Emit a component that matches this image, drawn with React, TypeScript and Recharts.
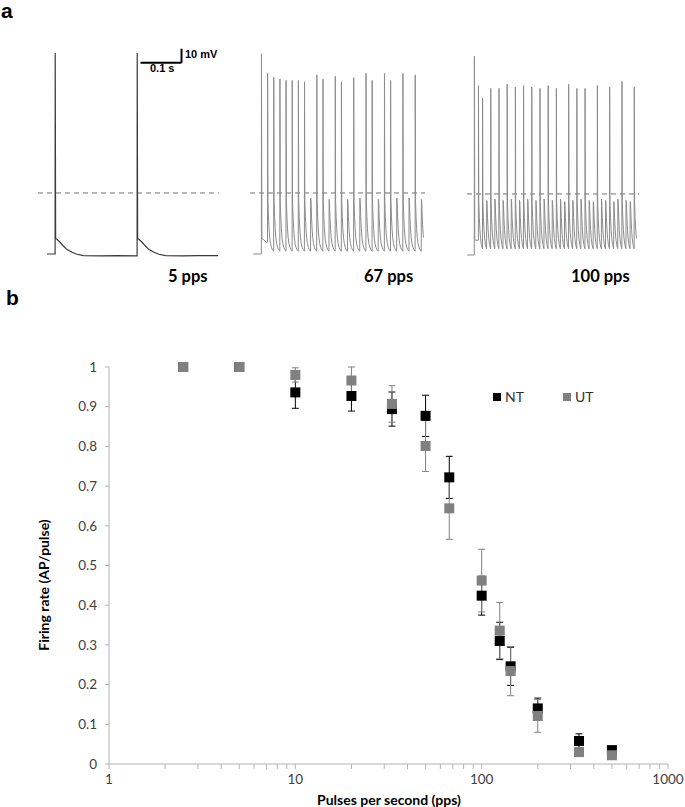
import React from 'react';
import {
  LineChart, Line, XAxis, YAxis, ReferenceLine,
  ScatterChart, Scatter, ErrorBar, Legend,
} from 'recharts';

// ---------- panel a: membrane potential (mV above rest) ----------
const thresholdMv = 43.6;
const scaleBarMs = 100;
const scaleBarMv = 10;

// peak depolarisation on each stimulus pulse (~40 = pulse without a spike)
const peaks5pps = [143.6, 143.6];
const peaks67pps = [
  143, 129, 126, 125, 124, 124, 124, 123, 40, 128, 125, 39, 127, 123,
  39, 126, 40, 129, 124, 39, 129, 124, 40, 129, 40, 128, 39,
];
const peaks100pps = [
  142, 121, 112, 39, 119, 40, 119, 39, 122, 40, 120, 39, 121, 40, 120,
  39, 119, 40, 121, 39, 119, 40, 38, 122, 39, 119, 40, 119, 39, 38, 121,
  40, 39, 120, 38, 40, 124, 39, 38, 120,
];

// after-potential shapes [ms after pulse, mV]
const singleAfter = [
  [1, 11], [4, 10.5], [12, 8.4], [20, 5.7], [28, 3.3], [41, 1.2],
  [53, -0.2], [69, -1.2], [110, -1.4], [150, -1.1], [199, -1.4],
];
const trainAfter = [
  [0.8, 38], [2, 27], [3.5, 18], [5, 12], [7, 7.5], [9.5, 4.5], [12, 3], [14.6, 2],
];

type Pt = { t: number; v: number };

function buildTrace(start: number, interval: number, peaks: number[], end: number, after: number[][]): Pt[] {
  const pts: Pt[] = [{ t: 0, v: 0 }];
  let v = 0;
  peaks.forEach((peak, k) => {
    const t0 = start + k * interval;
    pts.push({ t: t0 - 0.3, v });
    pts.push({ t: t0, v: peak });
    const shape = k === 0 ? singleAfter : after;
    const limit = k === peaks.length - 1 ? end - t0 : interval - 0.4;
    shape.forEach(([dt, mv]) => {
      if (dt <= limit) {
        pts.push({ t: t0 + dt, v: mv });
        v = mv;
      }
    });
  });
  pts.push({ t: end, v });
  return pts;
}

const trace5 = buildTrace(20, 200, peaks5pps, 417, singleAfter);
const trace67 = buildTrace(20, 15, peaks67pps, 416, trainAfter);
const trace100 = buildTrace(18, 10, peaks100pps, 414, trainAfter);

// ---------- panel b: firing rate vs pulse rate ----------
const pulseRates = [2.5, 5, 10, 20, 33, 50, 67, 100, 125, 143, 200, 333, 500];
const ntMean = [1, 1, 0.936, 0.927, 0.894, 0.877, 0.722, 0.424, 0.31, 0.246, 0.14, 0.058, 0.035];
const ntErr = [0, 0, 0.04, 0.038, 0.043, 0.052, 0.053, 0.049, 0.047, 0.048, 0.026, 0.018, 0.004];
const utMean = [1, 1, 0.98, 0.966, 0.907, 0.801, 0.644, 0.462, 0.336, 0.234, 0.121, 0.03, 0.022];
const utErr = [0, 0, 0.018, 0.034, 0.046, 0.064, 0.078, 0.079, 0.071, 0.062, 0.041, 0.005, 0.005];

const majorTicks = [1, 10, 100, 1000];
const minorSteps = [2, 3, 4, 5, 6, 7, 8, 9];
const yTicks = [0, 0.1, 0.2, 0.3, 0.4, 0.5, 0.6, 0.7, 0.8, 0.9, 1];

const xTicks = majorTicks.flatMap((m, i) =>
  i < majorTicks.length - 1 ? [m, ...minorSteps.map((s) => m * s)] : [m]
);

const ntData = pulseRates.map((x, i) => ({ x, y: ntMean[i], err: ntErr[i] }));
const utData = pulseRates.map((x, i) => ({ x, y: utMean[i], err: utErr[i] }));

const PX_MS = 0.41;
const PX_MV = 1.4;
const V_MIN = -10;
const V_MAX = 150;

const NT_COLOR = '#000000';
const UT_COLOR = '#808080';
const AXIS_GRAY = '#b3b3b3';

const square = (color: string) => (props: any) => (
  <rect x={props.cx - 5} y={props.cy - 5} width={10} height={10} fill={color} />
);

type TraceProps = { data: Pt[]; left: number; top: number; tMin: number; color: string; width: number; children?: React.ReactNode };

const Trace = ({ data, left, top, tMin, color, width, children }: TraceProps) => (
  <div style={{ position: 'absolute', left, top }}>
    <LineChart
      width={(420 - tMin) * PX_MS}
      height={(V_MAX - V_MIN) * PX_MV}
      data={data}
      margin={{ top: 0, right: 0, bottom: 0, left: 0 }}
    >
      <XAxis type="number" dataKey="t" domain={[tMin, 420]} hide allowDataOverflow />
      <YAxis type="number" domain={[V_MIN, V_MAX]} hide allowDataOverflow />
      <ReferenceLine y={thresholdMv} stroke="#707070" strokeDasharray="5 4" strokeWidth={1} />
      <Line
        type="linear"
        dataKey="v"
        stroke={color}
        strokeWidth={width}
        dot={false}
        isAnimationActive={false}
      />
      {children}
    </LineChart>
  </div>
);

const legendContent = (props: any) => (
  <div style={{ display: 'flex', fontFamily: 'Lato', fontSize: 14, color: '#333' }}>
    {props.payload.map((p: any) => (
      <div key={p.value} style={{ display: 'flex', alignItems: 'center', width: 70 }}>
        <span style={{ width: 8, height: 8, background: p.color, marginRight: 4 }} />
        <span>{p.value}</span>
      </div>
    ))}
  </div>
);

export default function App() {
  const tickStyle = { fill: '#404040', fontSize: 13.5, fontFamily: 'Lato' };
  return (
    <div style={{ position: 'absolute', left: 0, top: 0, width: 685, height: 807, background: '#fff' }}>
      <Trace data={trace5} left={38} top={44} tMin={-22} color="#3a3a3a" width={1.2}>
        <ReferenceLine
          segment={[{ x: 228, y: 136.6 }, { x: 228 + scaleBarMs, y: 136.6 }]}
          stroke="#000"
          strokeWidth={2}
        />
        <ReferenceLine
          segment={[{ x: 228 + scaleBarMs, y: 136.6 }, { x: 228 + scaleBarMs, y: 136.6 + scaleBarMv }]}
          stroke="#000"
          strokeWidth={2}
        />
      </Trace>
      <Trace data={trace67} left={250} top={44} tMin={-8} color="#8c8c8c" width={1} />
      <Trace data={trace100} left={467} top={45} tMin={0} color="#8c8c8c" width={1} />

      <div style={{ position: 'absolute', left: 0, top: 340 }}>
        <ScatterChart width={685} height={467} margin={{ top: 27, right: 17, bottom: 0, left: 0 }}>
          <XAxis
            type="number"
            dataKey="x"
            scale="log"
            domain={[1, 1000]}
            ticks={xTicks}
            interval={0}
            allowDataOverflow
            height={43}
            tickSize={5}
            tickMargin={5}
            stroke={AXIS_GRAY}
            tick={tickStyle}
            tickFormatter={(v: number) => (majorTicks.includes(v) ? String(v) : '')}
          />
          <YAxis
            type="number"
            dataKey="y"
            domain={[0, 1]}
            ticks={yTicks}
            interval={0}
            width={109}
            tickSize={4}
            tickMargin={8}
            stroke={AXIS_GRAY}
            tick={tickStyle}
            tickFormatter={(v: number) => String(+v.toFixed(1))}
          />
          <Legend
            layout="horizontal"
            verticalAlign="middle"
            align="center"
            wrapperStyle={{ top: 48, left: 493, width: 160 }}
            content={legendContent}
          />
          <Scatter name="NT" data={ntData} fill={NT_COLOR} shape={square(NT_COLOR)} isAnimationActive={false}>
            <ErrorBar dataKey="err" direction="y" width={3.5} stroke={NT_COLOR} strokeWidth={1} />
          </Scatter>
          <Scatter name="UT" data={utData} fill={UT_COLOR} shape={square(UT_COLOR)} isAnimationActive={false}>
            <ErrorBar dataKey="err" direction="y" width={3.5} stroke={UT_COLOR} strokeWidth={1} />
          </Scatter>
        </ScatterChart>
      </div>

      <svg width={685} height={807} style={{ position: 'absolute', left: 0, top: 0, pointerEvents: 'none' }}>
        <text x={1} y={18} fontFamily="Liberation Sans" fontWeight="bold" fontSize={21} fill="#000">a</text>
        <text x={6} y={305} fontFamily="Liberation Sans" fontWeight="bold" fontSize={21} fill="#000">b</text>
        <text x={185} y={58} fontFamily="Liberation Sans" fontWeight="bold" fontSize={11} fill="#000">10 mV</text>
        <text x={150} y={72} fontFamily="Liberation Sans" fontWeight="bold" fontSize={11} fill="#000">0.1 s</text>
        <text x={168} y={282} fontFamily="Lato" fontWeight="bold" fontSize={16.5} fill="#000">5 pps</text>
        <text x={364} y={282} fontFamily="Lato" fontWeight="bold" fontSize={16.5} fill="#000">67 pps</text>
        <text x={571} y={282} fontFamily="Lato" fontWeight="bold" fontSize={16.5} fill="#000">100 pps</text>
        <text x={389} y={805} textAnchor="middle" fontFamily="Lato" fontWeight="bold" fontSize={14} fill="#000">
          Pulses per second (pps)
        </text>
        <text
          x={0}
          y={0}
          transform="translate(49 585) rotate(-90)"
          textAnchor="middle"
          fontFamily="Lato"
          fontWeight="bold"
          fontSize={14}
          fill="#000"
        >
          Firing rate (AP/pulse)
        </text>
      </svg>
    </div>
  );
}
